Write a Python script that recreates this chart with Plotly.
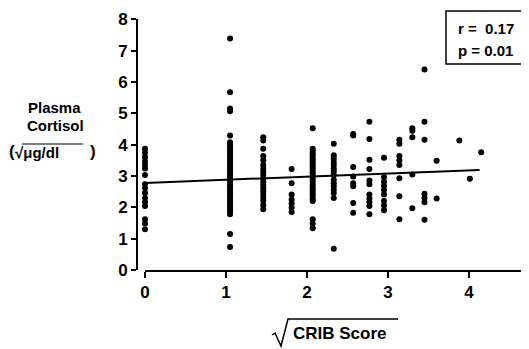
import plotly.graph_objects as go

# ---- data ----
col_x = [0.0, 1.05, 1.46, 1.81, 2.07, 2.33, 2.57, 2.77, 2.95, 3.14, 3.30, 3.45, 3.60, 3.88, 4.01, 4.15]
col_y = [
    [3.87, 3.74, 3.61, 3.47, 3.35, 3.24, 3.03, 2.74, 2.61, 2.46, 2.30, 2.17, 2.04, 1.62, 1.48, 1.30],
    [7.39, 5.67, 5.15, 5.07, 4.29, 4.08, 4.01, 3.95, 3.87, 3.81, 3.74, 3.69, 3.61, 3.55, 3.48, 3.42,
     3.35, 3.28, 3.22, 3.16, 3.08, 3.02, 2.95, 2.89, 2.82, 2.74, 2.68, 2.62, 2.55, 2.48, 2.42, 2.35,
     2.27, 2.21, 2.14, 2.08, 2.01, 1.93, 1.86, 1.78, 1.15, 0.73],
    [4.24, 4.13, 3.87, 3.64, 3.50, 3.35, 3.24, 3.14, 3.03, 2.93, 2.82, 2.72, 2.61, 2.51, 2.41, 2.30,
     2.20, 2.07, 1.94],
    [3.22, 2.77, 2.41, 2.25, 2.12, 1.99, 1.85],
    [4.52, 3.87, 3.80, 3.72, 3.65, 3.57, 3.50, 3.43, 3.36, 3.28, 3.21, 3.12, 3.05, 2.98, 2.90, 2.82,
     2.74, 2.66, 2.58, 2.50, 2.42, 2.33, 2.26, 2.20, 1.62, 1.48, 1.33],
    [4.03, 3.66, 3.56, 3.45, 3.35, 3.24, 3.14, 3.03, 2.88, 2.77, 2.67, 2.56, 2.46, 2.30, 0.68],
    [4.34, 4.29, 3.29, 2.98, 2.77, 2.67, 2.14, 1.83],
    [4.73, 4.18, 3.52, 3.22, 2.86, 2.74, 2.41, 2.28, 2.16, 2.04, 1.78],
    [3.58, 2.96, 2.82, 2.69, 2.56, 2.41, 2.20, 2.06, 1.91],
    [4.16, 4.03, 3.64, 3.50, 3.35, 2.93, 2.35, 1.62],
    [4.52, 4.44, 4.24, 3.05, 1.97],
    [6.40, 4.73, 4.16, 2.43, 2.30, 2.16, 1.60],
    [3.49, 2.28],
    [4.13],
    [2.91],
    [3.76],
]
fit_x = [0.0, 4.13]
fit_intercept = 2.78
fit_slope = 0.10
x_ticks = [0, 1, 2, 3, 4]
y_ticks = [0, 1, 2, 3, 4, 5, 6, 7, 8]
stats_lines = ["r =  0.17", "p = 0.01"]

xs, ys = [], []
for cx, vals in zip(col_x, col_y):
    for v in vals:
        xs.append(cx)
        ys.append(v)

# page body has an 8px margin; work in window pixels and convert
OFF = 8
W, H = 529, 349
ML, MR, MT, MB = 137 - OFF, OFF, 19 - OFF, H - (270 - OFF)
PW, PH = W - ML - MR, H - MT - MB


def px(x):
    return (x - OFF - ML) / PW


def py(y):
    return (H - MB - (y - OFF)) / PH


FONT = "Arial, Liberation Sans, sans-serif"

fig = go.Figure()
fig.add_trace(go.Scatter(x=xs, y=ys, mode="markers",
                         marker=dict(color="black", size=6),
                         cliponaxis=False, showlegend=False))
fig.add_trace(go.Scatter(x=fit_x, y=[fit_intercept + fit_slope * v for v in fit_x],
                         mode="lines", line=dict(color="black", width=2),
                         cliponaxis=False, showlegend=False))

fig.update_layout(
    width=W, height=H,
    margin=dict(l=ML, r=MR, t=MT, b=MB, pad=0, autoexpand=False),
    paper_bgcolor="white", plot_bgcolor="white",
    font=dict(family=FONT, color="black"),
    xaxis=dict(domain=[px(145), 1], range=[0, 4.74], tickvals=x_ticks,
               ticktext=["<b>%d</b>" % t for t in x_ticks],
               showline=True, linecolor="black", linewidth=2,
               ticks="outside", ticklen=6, tickwidth=2, tickcolor="black",
               tickfont=dict(size=17, family=FONT), ticklabeloverflow="allow",
               automargin=False, showgrid=False, zeroline=False),
    yaxis=dict(anchor="free", position=0, range=[0, 8.01], tickvals=y_ticks,
               ticktext=["<b>%d</b>" % t for t in y_ticks],
               showline=True, linecolor="black", linewidth=2,
               ticks="outside", ticklen=5, tickwidth=2, tickcolor="black",
               tickfont=dict(size=17, family=FONT), ticklabeloverflow="allow",
               automargin=False, showgrid=False, zeroline=False),
)


def note(text, x, y, size=15, xanchor="center"):
    return dict(text=text, x=px(x), y=py(y), xref="paper", yref="paper",
                xanchor=xanchor, yanchor="middle", showarrow=False,
                font=dict(size=size, family=FONT))


ann = [
    note("<b>Plasma</b>", 54, 107),
    note("<b>Cortisol</b>", 55, 126),
    note("<b>(</b>", 7, 151, size=17, xanchor="left"),
    note("<b>√μg/dl</b>", 13, 152, xanchor="left"),
    note("<b>)</b>", 88, 151, size=17, xanchor="left"),
    note("<b>CRIB Score</b>", 291, 333, size=17, xanchor="left"),
]
for i, s in enumerate(stats_lines):
    ann.append(note("<b>%s</b>" % s, 456, 29 + 21 * i, xanchor="left"))
fig.update_layout(annotations=ann)

shapes = [
    dict(type="rect", xref="paper", yref="paper", x0=px(446), x1=px(528), y0=py(64), y1=py(11),
         line=dict(color="black", width=1.5)),
    # radical sign on x title
    dict(type="path", xref="paper", yref="paper",
         path="M %f %f L %f %f L %f %f L %f %f L %f %f" % (
             px(272), py(335), px(275), py(333), px(281), py(346), px(288), py(319), px(398), py(319)),
         line=dict(color="black", width=1.5)),
    # overline on y title unit
    dict(type="line", xref="paper", yref="paper", x0=px(22), x1=px(83), y0=py(144), y1=py(144),
         line=dict(color="black", width=1)),
]
fig.update_layout(shapes=shapes)

fig.write_html("out.html")
